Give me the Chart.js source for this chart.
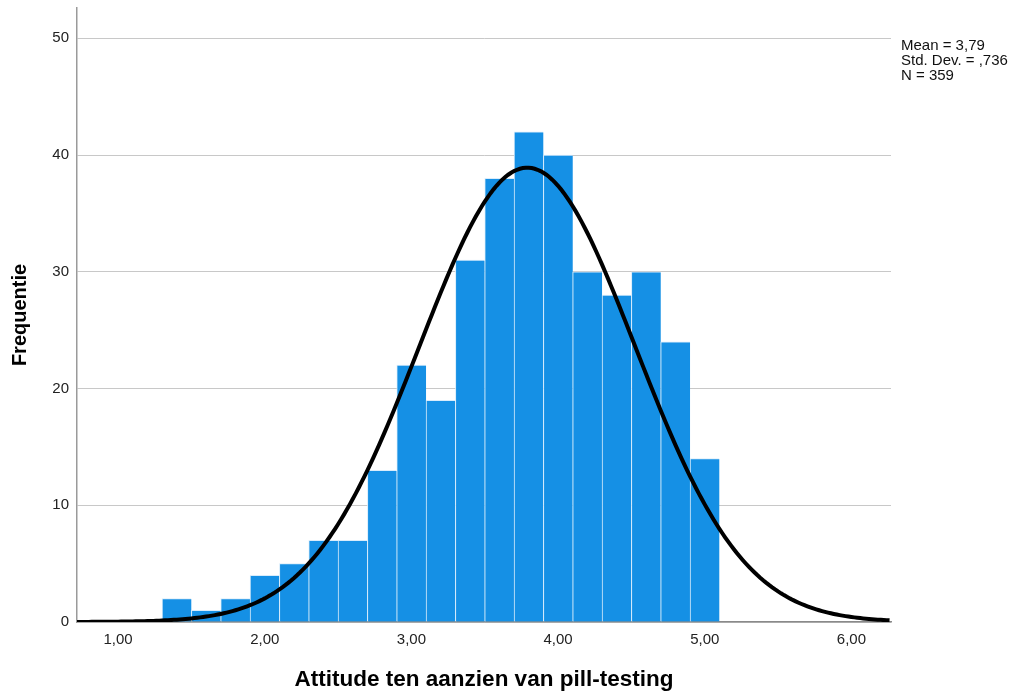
<!DOCTYPE html>
<html>
<head>
<meta charset="utf-8">
<script src="https://cdn.jsdelivr.net/npm/chart.js@4/dist/chart.umd.min.js"></script>
<style>
    body { margin: 0; background: #fff; }
    #wrap { width: 1013px; height: 693px; }
</style>
</head>
<body>
<div id="wrap"><canvas id="histChart" width="1013" height="693"></canvas></div>
<script>
// bin centres (bin width 0,2) and frequencies
const binCenters = [1.4, 1.6, 1.8, 2.0, 2.2, 2.4, 2.6, 2.8, 3.0, 3.2,
                    3.4, 3.6, 3.8, 4.0, 4.2, 4.4, 4.6, 4.8, 5.0];
const frequencies = [2, 1, 2, 4, 5, 7, 7, 13, 22, 19,
                     31, 38, 42, 40, 30, 28, 30, 24, 14];
const binWidth = 0.2;

// statistics printed next to the plot
const meanValue = 3.79;
const sdValue = 0.736;
const nValue = 359;
const statLines = ["Mean = 3,79", "Std. Dev. = ,736", "N = 359"];

const xTicks = [1, 2, 3, 4, 5, 6];
const yTicks = [0, 10, 20, 30, 40, 50];
const xMin = 0.72;
const xMax = 6.27;

// fitted normal curve from the printed mean / sd / N
const curvePoints = [];
for (let x = xMin; x <= xMax + 0.001; x += 0.02) {
    const z = (x - meanValue) / sdValue;
    const y = nValue * binWidth * Math.exp(-0.5 * z * z) /
        (sdValue * Math.sqrt(2 * Math.PI));
    curvePoints.push({ x: x, y: y });
}

const barPoints = binCenters.map(function (c, i) {
    return { x: c, y: frequencies[i] };
});

const FONT = "'Liberation Sans', Arial, sans-serif";

const statsPlugin = {
    id: "stats",
    afterDraw: function (chart) {
        const ctx = chart.ctx;
        ctx.save();
        ctx.font = "15px " + FONT;
        ctx.fillStyle = "#111";
        ctx.textBaseline = "middle";
        ctx.textAlign = "left";
        statLines.forEach(function (t, i) {
            ctx.fillText(t, 901, 45.5 + i * 15.3);
        });
        ctx.restore();
    }
};

new Chart(document.getElementById("histChart"), {
    type: "bar",
    data: {
        datasets: [
            {
                type: "line",
                data: curvePoints,
                borderColor: "#000",
                borderWidth: 4,
                pointRadius: 0,
                tension: 0,
                fill: false,
                order: 0
            },
            {
                type: "bar",
                data: barPoints,
                backgroundColor: "rgb(21,144,229)",
                borderColor: "rgba(215,235,251,0.95)",
                borderWidth: { left: 1, top: 1, right: 0, bottom: 0 },
                borderSkipped: false,
                barPercentage: 1,
                categoryPercentage: 1,
                order: 1
            }
        ]
    },
    options: {
        responsive: false,
        animation: false,
        layout: {
            padding: { top: 8, right: 122, left: 0, bottom: 0 }
        },
        plugins: {
            legend: { display: false },
            tooltip: { enabled: false }
        },
        scales: {
            x: {
                type: "linear",
                min: xMin,
                max: xMax,
                offset: false,
                afterBuildTicks: function (scale) {
                    scale.ticks = xTicks.map(function (v) { return { value: v }; });
                },
                afterFit: function (scale) {
                    scale.height = 71;
                    scale.paddingLeft = 0;
                    scale.paddingRight = 0;
                },
                grid: { display: false, drawTicks: false },
                border: { display: true, color: "#8a8a8a", width: 1.5 },
                ticks: {
                    padding: 9,
                    color: "#222",
                    font: { family: FONT, size: 15 },
                    maxRotation: 0,
                    callback: function (v) { return v.toFixed(2).replace(".", ","); }
                },
                title: {
                    display: true,
                    text: "Attitude ten aanzien van pill-testing",
                    color: "#000",
                    font: { family: FONT, size: 22.5, weight: "bold" },
                    padding: { top: 0, bottom: 0 }
                }
            },
            y: {
                min: 0,
                max: 52.6,
                afterBuildTicks: function (scale) {
                    scale.ticks = yTicks.map(function (v) { return { value: v }; });
                },
                afterFit: function (scale) {
                    scale.width = 77;
                    scale.paddingTop = 0;
                    scale.paddingBottom = 0;
                },
                grid: { color: "#c8c8c8", lineWidth: 1, drawTicks: false },
                border: { display: true, color: "#9a9a9a", width: 1.5 },
                ticks: {
                    padding: 8,
                    color: "#222",
                    font: { family: FONT, size: 15 }
                },
                title: {
                    display: true,
                    text: "Frequentie",
                    color: "#000",
                    font: { family: FONT, size: 20, weight: "bold" },
                    padding: { top: 8, bottom: 0 }
                }
            }
        }
    },
    plugins: [statsPlugin]
});
</script>
</body>
</html>
